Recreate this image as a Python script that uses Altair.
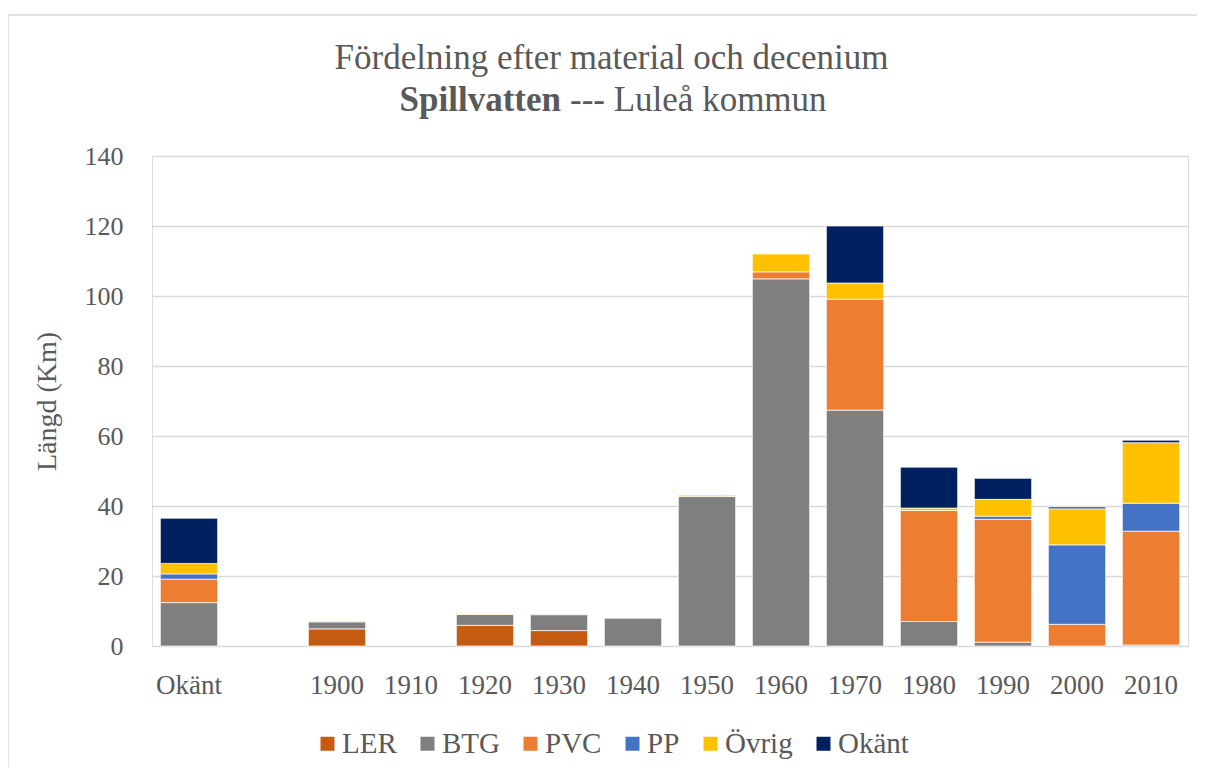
import altair as alt
import pandas as pd

# ---- data (km) ----
categories = ["Okänt", "_blank", "1900", "1910", "1920", "1930", "1940",
              "1950", "1960", "1970", "1980", "1990", "2000", "2010"]
materials = ["LER", "BTG", "PVC", "PP", "Övrig", "Okänt"]
colors = ["#C55A11", "#7F7F7F", "#ED7D31", "#4472C4", "#FFC000", "#002060"]

LER   = [0.0, 0, 4.9, 0, 5.9, 4.4, 0.0, 0.0, 0.0, 0.0, 0.0, 0.0, 0.0, 0.0]
BTG   = [12.4, 0, 2.0, 0, 3.1, 4.5, 7.9, 42.7, 104.9, 67.4, 7.0, 1.1, 0.0, 0.3]
PVC   = [6.7, 0, 0.0, 0, 0.0, 0.0, 0.0, 0.0, 2.0, 31.7, 31.7, 35.1, 6.2, 32.5]
PP    = [1.5, 0, 0.0, 0, 0.0, 0.0, 0.0, 0.0, 0.0, 0.0, 0.0, 0.9, 22.7, 8.0]
OVRIG = [3.0, 0, 0.2, 0, 0.2, 0.0, 0.0, 0.4, 5.1, 4.6, 0.7, 4.8, 10.3, 17.3]
OKANT = [12.9, 0, 0.0, 0, 0.0, 0.0, 0.0, 0.0, 0.0, 16.3, 11.7, 6.0, 0.5, 0.7]

title_line1 = ["Fördelning efter material och decenium"]
title_bold = ["Spillvatten"]
title_rest = ["--- Luleå kommun"]
y_title = "Längd (Km)"

series = [LER, BTG, PVC, PP, OVRIG, OKANT]
rows = []
for mi, (m, vals) in enumerate(zip(materials, series)):
    for c, v in zip(categories, vals):
        if v > 0:
            rows.append({"cat": c, "material": m, "value": v, "ord": mi})
df = pd.DataFrame(rows)

FONT = "Liberation Serif"
TXT = "#595959"
W, H = 1036, 490

bars = alt.Chart(df).mark_bar(stroke="white", strokeWidth=0.7).encode(
    x=alt.X("cat:N", sort=categories,
            scale=alt.Scale(domain=categories, paddingInner=0.226, paddingOuter=0.113),
            axis=alt.Axis(title=None, labelAngle=0, ticks=False, domain=False,
                          labelPadding=26, labelFontSize=27, labelColor=TXT,
                          labelFont=FONT, grid=False,
                          labelExpr="datum.value == '_blank' ? '' : datum.value")),
    y=alt.Y("value:Q", stack="zero",
            scale=alt.Scale(domain=[0, 140]),
            axis=alt.Axis(title=y_title, values=list(range(0, 141, 20)),
                          ticks=False, domain=False, labelPadding=29,
                          labelFontSize=26, labelColor=TXT, labelFont=FONT,
                          titleFont=FONT, titleFontSize=28, titleColor=TXT,
                          titleFontWeight="normal", titlePadding=23,
                          gridColor="#D9D9D9", gridWidth=1.3)),
    color=alt.Color("material:N", sort=materials,
                    scale=alt.Scale(domain=materials, range=colors),
                    legend=alt.Legend(title=None, orient="none", direction="horizontal",
                                      legendX=161, legendY=573,
                                      symbolType="square", symbolSize=196,
                                      symbolStrokeWidth=0, labelFont=FONT,
                                      labelFontSize=29, labelColor=TXT,
                                      labelOffset=0, columnPadding=16)),
    order=alt.Order("ord:Q", sort="ascending"),
)

t1 = alt.Chart(pd.DataFrame({"t": title_line1})).mark_text(
    font=FONT, fontSize=35, color=TXT, align="center", baseline="alphabetic"
).encode(text="t:N", x=alt.value(459.5), y=alt.value(-87))

t2 = alt.Chart(pd.DataFrame({"t": title_bold})).mark_text(
    font=FONT, fontSize=35, fontWeight="bold", color=TXT, align="right", baseline="alphabetic"
).encode(text="t:N", x=alt.value(409), y=alt.value(-45))

t3 = alt.Chart(pd.DataFrame({"t": title_rest})).mark_text(
    font=FONT, fontSize=35, color=TXT, align="left", baseline="alphabetic"
).encode(text="t:N", x=alt.value(418), y=alt.value(-45))

frame_top = alt.Chart(pd.DataFrame({"f": [0]})).mark_rule(
    stroke="#D9D9D9", strokeWidth=1.5
).encode(x=alt.value(-144), x2=alt.value(W + 9), y=alt.value(-141))

frame_left = alt.Chart(pd.DataFrame({"f": [0]})).mark_rule(
    stroke="#D9D9D9", strokeWidth=1.5
).encode(x=alt.value(-144), y=alt.value(-141), y2=alt.value(H + 121))

chart = alt.layer(frame_top, frame_left, bars, t1, t2, t3).properties(
    width=W, height=H,
    autosize=alt.AutoSizeParams(type="none"),
    padding={"left": 144, "top": 148, "right": 10, "bottom": 122},
).configure_view(stroke=None).configure(background="white")

chart.save("out.html", embed_options={"renderer": "svg", "actions": False})
